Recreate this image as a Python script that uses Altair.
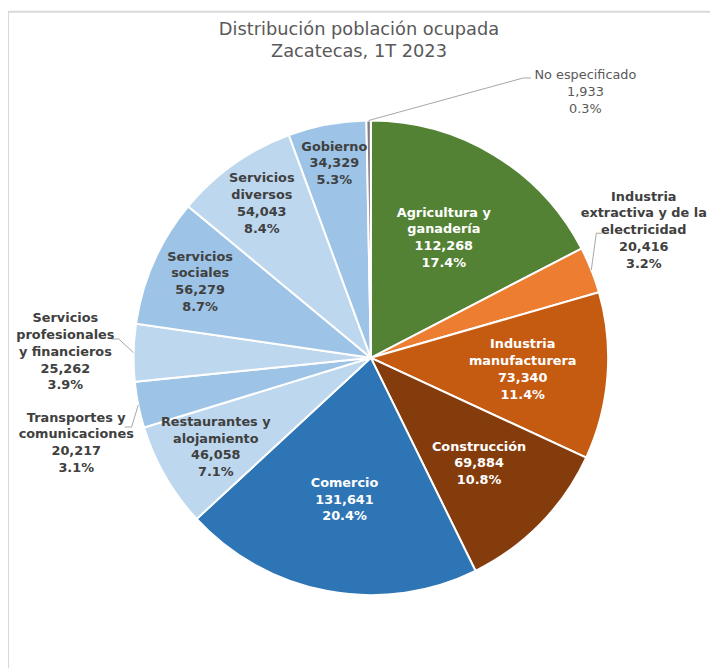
import math
import altair as alt
import pandas as pd

# ---------------- data ----------------
categories = [
    "Agricultura y ganadería",
    "Industria extractiva y de la electricidad",
    "Industria manufacturera",
    "Construcción",
    "Comercio",
    "Restaurantes y alojamiento",
    "Transportes y comunicaciones",
    "Servicios profesionales y financieros",
    "Servicios sociales",
    "Servicios diversos",
    "Gobierno",
    "No especificado",
]
values = [112268, 20416, 73340, 69884, 131641, 46058, 20217, 25262, 56279, 54043, 34329, 1933]
label_lines = [
    ["Agricultura y", "ganadería"],
    ["Industria", "extractiva y de la", "electricidad"],
    ["Industria", "manufacturera"],
    ["Construcción"],
    ["Comercio"],
    ["Restaurantes y", "alojamiento"],
    ["Transportes y", "comunicaciones"],
    ["Servicios", "profesionales", "y financieros"],
    ["Servicios", "sociales"],
    ["Servicios", "diversos"],
    ["Gobierno"],
    ["No especificado"],
]
title_lines = ["Distribución población ocupada", "Zacatecas, 1T 2023"]

# ---------------- style ----------------
colors = ["#548235", "#ED7D31", "#C55A11", "#843C0C", "#2E75B6", "#BDD7EE",
          "#9DC3E6", "#BDD7EE", "#9DC3E6", "#BDD7EE", "#9DC3E6", "#7F7F7F"]
FONT = "DejaVu Sans"
W, H = 710, 602
PAD_TOP = 62
CX, CY = 367, 288          # pie centre inside the view
R = 240
LH = 17                    # label line height
TITLE_Y = [-43, -21]       # title line centres (view coords)
white_text = {"Agricultura y ganadería", "Industria manufacturera", "Construcción", "Comercio"}
inner_radius = {
    "Agricultura y ganadería": 142, "Industria manufacturera": 154, "Construcción": 153,
    "Comercio": 146, "Restaurantes y alojamiento": 181, "Servicios sociales": 189,
    "Servicios diversos": 191, "Gobierno": 200,
}
# outside labels: offset of label centre from pie centre, leader elbow offset, horizontal tail
outer = {
    "No especificado": ((217, -269), (154, -283), 8),
    "Industria extractiva y de la electricidad": ((276, -129), (228, -126), 6),
    "Servicios profesionales y financieros": ((-309, -6), (-255, -19), -7),
    "Transportes y comunicaciones": ((-298, 86), (-242, 70), -7),
}

# ---------------- tables ----------------
total = sum(values)
df = pd.DataFrame({"cat": categories, "value": values, "idx": range(len(values))})

rows, lead = [], []
cum = 0.0
for cat, v, lines in zip(categories, values, label_lines):
    mid = (cum + v / 2) / total * 2 * math.pi
    cum += v
    pct = f"{v / total * 100:.1f}%"
    all_lines = lines + [f"{v:,}", pct]
    text = "\n".join(all_lines)
    if cat in outer:
        (dx, dy), (ex, ey), tail = outer[cat]
        lx, ly = CX + dx, CY + dy
        sx, sy = CX + R * math.sin(mid), CY - R * math.cos(mid)
        pts = [(sx, sy), (CX + ex, CY + ey), (CX + ex + tail, CY + ey)]
        for k, (px, py) in enumerate(pts):
            lead.append({"cat": cat, "k": k, "px": px, "py": py})
        kind = "note" if cat == "No especificado" else "outer"
    else:
        r = inner_radius[cat]
        lx, ly = CX + r * math.sin(mid), CY - r * math.cos(mid)
        kind = "white" if cat in white_text else "dark"
    # first line position so that the whole block is centred on (lx, ly)
    ly0 = ly - (len(all_lines) - 1) / 2 * LH
    rows.append({"cat": cat, "text": text, "lx": lx, "ly": ly0, "kind": kind})

labels = pd.DataFrame(rows)
leaders = pd.DataFrame(lead)
titles = pd.DataFrame({"t": title_lines, "ty": TITLE_Y})

# ---------------- chart ----------------
pie = alt.Chart(df).mark_arc(outerRadius=R, stroke="white", strokeWidth=2).encode(
    theta=alt.Theta("value:Q", stack=True),
    order=alt.Order("idx:Q"),
    color=alt.Color("cat:N", scale=alt.Scale(domain=categories, range=colors), legend=None),
    x=alt.value(CX),
    y=alt.value(CY),
)

lead_lines = alt.Chart(leaders).mark_line(color="#A6A6A6", strokeWidth=1).encode(
    x=alt.X("px:Q", scale=None, axis=None),
    y=alt.Y("py:Q", scale=None, axis=None),
    detail="cat:N",
    order="k:Q",
)


def label_layer(kind, color, weight, size):
    return alt.Chart(labels).transform_filter(alt.datum.kind == kind).mark_text(
        lineBreak="\n", align="center", baseline="middle", font=FONT,
        fontWeight=weight, fontSize=size, lineHeight=LH, color=color,
    ).encode(
        x=alt.X("lx:Q", scale=None, axis=None),
        y=alt.Y("ly:Q", scale=None, axis=None),
        text="text:N",
    )


title = alt.Chart(titles).mark_text(
    align="center", baseline="middle", font=FONT, fontSize=18, color="#595959",
).encode(
    x=alt.value(W / 2),
    y=alt.Y("ty:Q", scale=None, axis=None),
    text="t:N",
)

frame_data = pd.DataFrame({"a": [0]})
left_edge = alt.Chart(frame_data).mark_rule(color="#D9D9D9", strokeWidth=2).encode(
    x=alt.value(0), y=alt.value(-PAD_TOP), y2=alt.value(H)
)
top_edge = alt.Chart(frame_data).mark_rule(color="#D9D9D9", strokeWidth=2).encode(
    x=alt.value(0), x2=alt.value(W), y=alt.value(-PAD_TOP)
)

chart = alt.layer(
    left_edge, top_edge, title, pie, lead_lines,
    label_layer("white", "white", "bold", 13),
    label_layer("dark", "#404040", "bold", 13),
    label_layer("outer", "#404040", "bold", 13),
    label_layer("note", "#595959", "normal", 13),
).properties(
    width=W, height=H,
    padding={"top": PAD_TOP, "left": 0, "right": 0, "bottom": 0},
    autosize=alt.AutoSizeParams(type="none"),
).configure_view(stroke=None)

chart.save("out.html", embed_options={"renderer": "svg", "actions": False})
